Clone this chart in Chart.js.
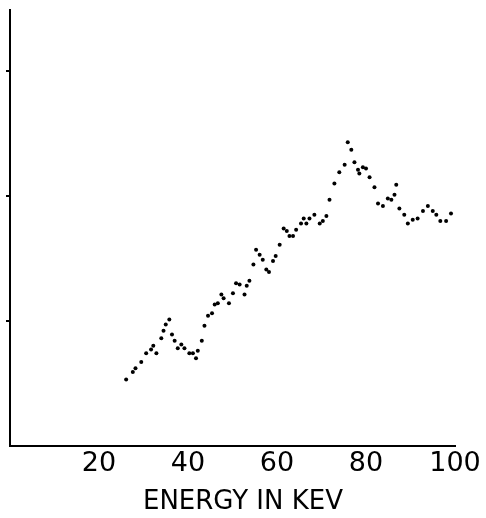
<!DOCTYPE html>
<html lang="en">
<head>
<meta charset="UTF-8" />
<title>Energy in keV</title>
<script src="https://cdn.jsdelivr.net/npm/chart.js"></script>
<style>
  body { margin: 0; background: #fff; position: relative; width: 486px; height: 518px; overflow: hidden; }
  canvas { display: block; }
  #xtitle {
    position: absolute; left: 0; width: 486px; top: 487px;
    text-align: center; font: 26px/26px 'DejaVu Sans', sans-serif; color: #000;
  }
</style>
</head>
<body>
<canvas id="spectrum" width="486" height="518"></canvas>
<div id="xtitle">ENERGY IN KEV</div>
<script>
// energies (keV) and relative response
const energy = [
  26.1, 27.6, 28.2, 29.5, 30.6, 31.7, 32.2, 32.9, 34.0, 34.5, 35.0, 35.8, 36.4, 37.0, 37.7,
  38.5, 39.2, 40.3, 41.1, 41.8, 42.2, 43.1, 43.7, 44.5, 45.4, 46.0, 46.7, 47.5, 48.0, 49.2,
  50.1, 50.8, 51.6, 52.7, 53.2, 53.8, 54.7, 55.3, 56.1, 56.8, 57.6, 58.2, 59.1, 59.7, 60.6,
  61.5, 62.2, 62.8, 63.6, 64.3, 65.4, 66.0, 66.6, 67.3, 68.4, 69.6, 70.3, 71.1, 71.8, 72.9,
  74.0, 75.2, 75.9, 76.7, 77.4, 78.2, 78.5, 79.3, 80.0, 80.8, 81.9, 82.7, 83.8, 84.9, 85.7,
  86.4, 86.8, 87.5, 88.6, 89.4, 90.5, 91.6, 92.8, 93.9, 95.0, 95.8, 96.7, 98.0, 99.1
];
const response = [
  0.53, 0.59, 0.62, 0.67, 0.74, 0.77, 0.80, 0.74, 0.86, 0.92, 0.97, 1.01, 0.89, 0.84, 0.78,
  0.81, 0.78, 0.74, 0.74, 0.70, 0.76, 0.84, 0.96, 1.04, 1.06, 1.13, 1.14, 1.21, 1.18, 1.14,
  1.22, 1.30, 1.29, 1.21, 1.28, 1.32, 1.45, 1.57, 1.53, 1.49, 1.41, 1.39, 1.48, 1.52, 1.61,
  1.74, 1.72, 1.68, 1.68, 1.73, 1.78, 1.82, 1.78, 1.82, 1.85, 1.78, 1.80, 1.84, 1.97, 2.10,
  2.19, 2.25, 2.43, 2.37, 2.27, 2.21, 2.18, 2.23, 2.22, 2.15, 2.07, 1.94, 1.92, 1.98, 1.97,
  2.01, 2.09, 1.90, 1.85, 1.78, 1.81, 1.82, 1.88, 1.92, 1.88, 1.85, 1.80, 1.80, 1.86
];
const xTicks = [20, 40, 60, 80, 100];
const yTicks = [1, 2, 3];

const points = energy.map((e, i) => ({ x: e, y: response[i] }));

new Chart(document.getElementById('spectrum'), {
  type: 'scatter',
  data: {
    datasets: [{
      data: points,
      backgroundColor: '#000',
      borderWidth: 0,
      pointRadius: 2
    }]
  },
  options: {
    responsive: false,
    animation: false,
    // bottom padding leaves room for the axis title div
    layout: { padding: { left: 6, right: 31, top: 10, bottom: 36 } },
    plugins: { legend: { display: false }, tooltip: { enabled: false } },
    scales: {
      x: {
        min: 0,
        max: 100,
        afterBuildTicks: s => { s.ticks = xTicks.map(v => ({ value: v })); },
        border: { color: '#000', width: 2 },
        grid: { drawOnChartArea: false, drawTicks: false },
        ticks: {
          color: '#000',
          padding: 2,
          maxRotation: 0,
          font: { family: 'DejaVu Sans', size: 27 }
        }
      },
      y: {
        min: 0,
        max: 3.49,
        afterBuildTicks: s => { s.ticks = yTicks.map(v => ({ value: v })); },
        border: { color: '#000', width: 2 },
        grid: { drawOnChartArea: false, drawTicks: true, tickLength: 4, color: '#000', lineWidth: 2 },
        ticks: { display: false }
      }
    }
  }
});
</script>
</body>
</html>
